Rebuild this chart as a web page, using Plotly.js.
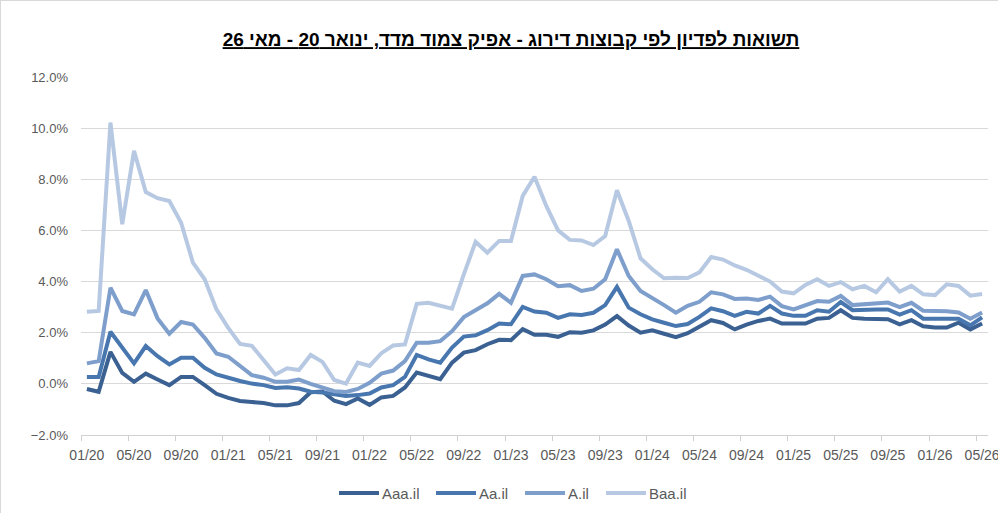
<!DOCTYPE html>
<html>
<head>
<meta charset="utf-8">
<script src="https://cdn.plot.ly/plotly-3.0.1.min.js"></script>
<style>
html,body{margin:0;padding:0;background:#fff;}
#chart{width:998px;height:513px;box-sizing:border-box;border:1px solid #d9d9d9;}
</style>
</head>
<body>
<div id="chart"></div>
<script>
const months = ["01/20","02/20","03/20","04/20","05/20","06/20","07/20","08/20","09/20","10/20","11/20","12/20",
"01/21","02/21","03/21","04/21","05/21","06/21","07/21","08/21","09/21","10/21","11/21","12/21",
"01/22","02/22","03/22","04/22","05/22","06/22","07/22","08/22","09/22","10/22","11/22","12/22",
"01/23","02/23","03/23","04/23","05/23","06/23","07/23","08/23","09/23","10/23","11/23","12/23",
"01/24","02/24","03/24","04/24","05/24","06/24","07/24","08/24","09/24","10/24","11/24","12/24",
"01/25","02/25","03/25","04/25","05/25","06/25","07/25","08/25","09/25","10/25","11/25","12/25",
"01/26","02/26","03/26","04/26","05/26"];

const aaa = [-0.20,-0.31,1.25,0.43,0.08,0.40,0.17,-0.05,0.27,0.27,-0.05,-0.39,
-0.55,-0.67,-0.71,-0.75,-0.84,-0.84,-0.75,-0.33,-0.30,-0.66,-0.79,-0.57,
-0.82,-0.53,-0.47,-0.14,0.44,0.31,0.18,0.83,1.22,1.32,1.55,1.72,
1.71,2.14,1.92,1.92,1.84,2.02,2.00,2.09,2.32,2.65,2.28,2.00,
2.09,1.96,1.83,1.98,2.22,2.49,2.38,2.13,2.32,2.46,2.55,2.36,
2.36,2.36,2.55,2.58,2.88,2.58,2.55,2.55,2.53,2.33,2.49,2.25,
2.20,2.20,2.39,2.13,2.36];

const aa = [0.27,0.27,2.04,1.41,0.80,1.48,1.08,0.76,1.02,1.02,0.63,0.37,
0.23,0.11,0.01,-0.05,-0.16,-0.13,-0.18,-0.31,-0.34,-0.40,-0.47,-0.44,
-0.38,-0.14,-0.05,0.27,1.13,0.96,0.83,1.42,1.85,1.90,2.10,2.36,
2.33,3.01,2.83,2.78,2.58,2.72,2.69,2.78,3.08,3.79,2.98,2.72,
2.52,2.39,2.26,2.34,2.62,2.95,2.84,2.66,2.82,2.75,3.05,2.75,
2.66,2.66,2.88,2.82,3.20,2.88,2.91,2.91,2.91,2.71,2.88,2.55,
2.55,2.55,2.55,2.29,2.60];

const a = [0.80,0.89,3.76,2.85,2.72,3.67,2.56,1.96,2.42,2.32,1.80,1.19,
1.06,0.70,0.34,0.24,0.08,0.08,0.17,0.00,-0.16,-0.29,-0.32,-0.20,
0.04,0.40,0.52,0.89,1.61,1.61,1.67,2.06,2.61,2.89,3.15,3.52,
3.17,4.22,4.28,4.09,3.82,3.86,3.63,3.72,4.09,5.26,4.22,3.63,
3.37,3.08,2.78,3.05,3.21,3.58,3.50,3.32,3.34,3.28,3.41,3.04,
2.91,3.08,3.24,3.21,3.44,3.08,3.12,3.14,3.18,3.00,3.17,2.86,
2.86,2.84,2.79,2.55,2.79];

const baa = [2.82,2.85,10.22,6.24,9.11,7.50,7.26,7.15,6.30,4.74,4.09,2.91,
2.19,1.56,1.49,0.90,0.37,0.61,0.54,1.13,0.86,0.15,0.01,0.83,
0.70,1.20,1.50,1.54,3.13,3.17,3.04,2.94,4.28,5.56,5.13,5.59,
5.59,7.35,8.10,6.96,6.00,5.63,5.61,5.43,5.78,7.57,6.37,4.91,
4.48,4.13,4.15,4.14,4.36,4.96,4.86,4.63,4.46,4.24,4.00,3.61,
3.54,3.87,4.09,3.83,3.98,3.70,3.83,3.58,4.09,3.61,3.83,3.50,
3.47,3.89,3.83,3.45,3.51];

const seriesNames = ["Aaa.il","Aa.il","A.il","Baa.il"];
const seriesColors = ["#3b6192","#4876ae","#7e9ecb","#b7c9e2"];
const seriesData = [aaa, aa, a, baa];

const FONT = "Liberation Sans, Arial, sans-serif";

const traces = seriesData.map((ys, k) => ({
  x: months, y: ys, name: seriesNames[k], type: "scatter", mode: "lines",
  line: {color: seriesColors[k], width: 4, shape: "linear"},
  hoverinfo: "skip", showlegend: false
}));

// Custom legend (Excel style: long line swatch, text right after it)
const plotL = 80, plotW = 907, plotB = 434, plotH = 358;
const legendStartsPx = [338, 435, 524, 605];
const legendYpx = 492;
const px2x = p => (p - plotL) / plotW;
const py2y = p => (plotB - p) / plotH;
const shapes = [];
const annotations = [];
seriesNames.forEach((nm, k) => {
  const s = legendStartsPx[k];
  shapes.push({type: "line", xref: "paper", yref: "paper",
    x0: px2x(s), x1: px2x(s + 40), y0: py2y(legendYpx), y1: py2y(legendYpx),
    line: {color: seriesColors[k], width: 4}});
  annotations.push({xref: "paper", yref: "paper", x: px2x(s + 41), y: py2y(legendYpx + 1),
    xanchor: "left", yanchor: "middle", showarrow: false, text: nm,
    font: {family: FONT, size: 15, color: "#595959"}});
});

const layout = {
  width: 998, height: 513,
  paper_bgcolor: "#ffffff", plot_bgcolor: "#ffffff",
  margin: {l: 80, r: 11, t: 76, b: 79},
  title: {
    text: "<b><u>תשואות לפדיון לפי קבוצות דירוג - אפיק צמוד מדד, ינואר 20 - מאי 26</u></b>",
    font: {family: FONT, size: 19, color: "#000000"},
    x: 0.511, xanchor: "center", y: 0.925, yanchor: "middle"
  },
  xaxis: {
    type: "category", range: [-0.5, 76.5], dtick: 4, tickson: "boundaries",
    showgrid: false, showline: true, linecolor: "#d0d0d0", linewidth: 1,
    ticks: "outside", ticklen: 5, tickcolor: "#d0d0d0",
    tickfont: {family: FONT, size: 14, color: "#595959"}, tickangle: 0,
    ticklabelstandoff: 7, zeroline: false, fixedrange: true
  },
  yaxis: {
    range: [-2, 12], dtick: 2, tick0: 0, tickformat: ".1f", ticksuffix: "%",
    showgrid: true, gridcolor: "#d9d9d9", gridwidth: 1,
    zeroline: false, showline: false, ticks: "", ticklabelstandoff: 12,
    tickfont: {family: FONT, size: 13, color: "#595959"}, fixedrange: true
  },
  shapes: shapes,
  annotations: annotations,
  showlegend: false
};

Plotly.newPlot("chart", traces, layout, {displayModeBar: false, staticPlot: true});
</script>
</body>
</html>
